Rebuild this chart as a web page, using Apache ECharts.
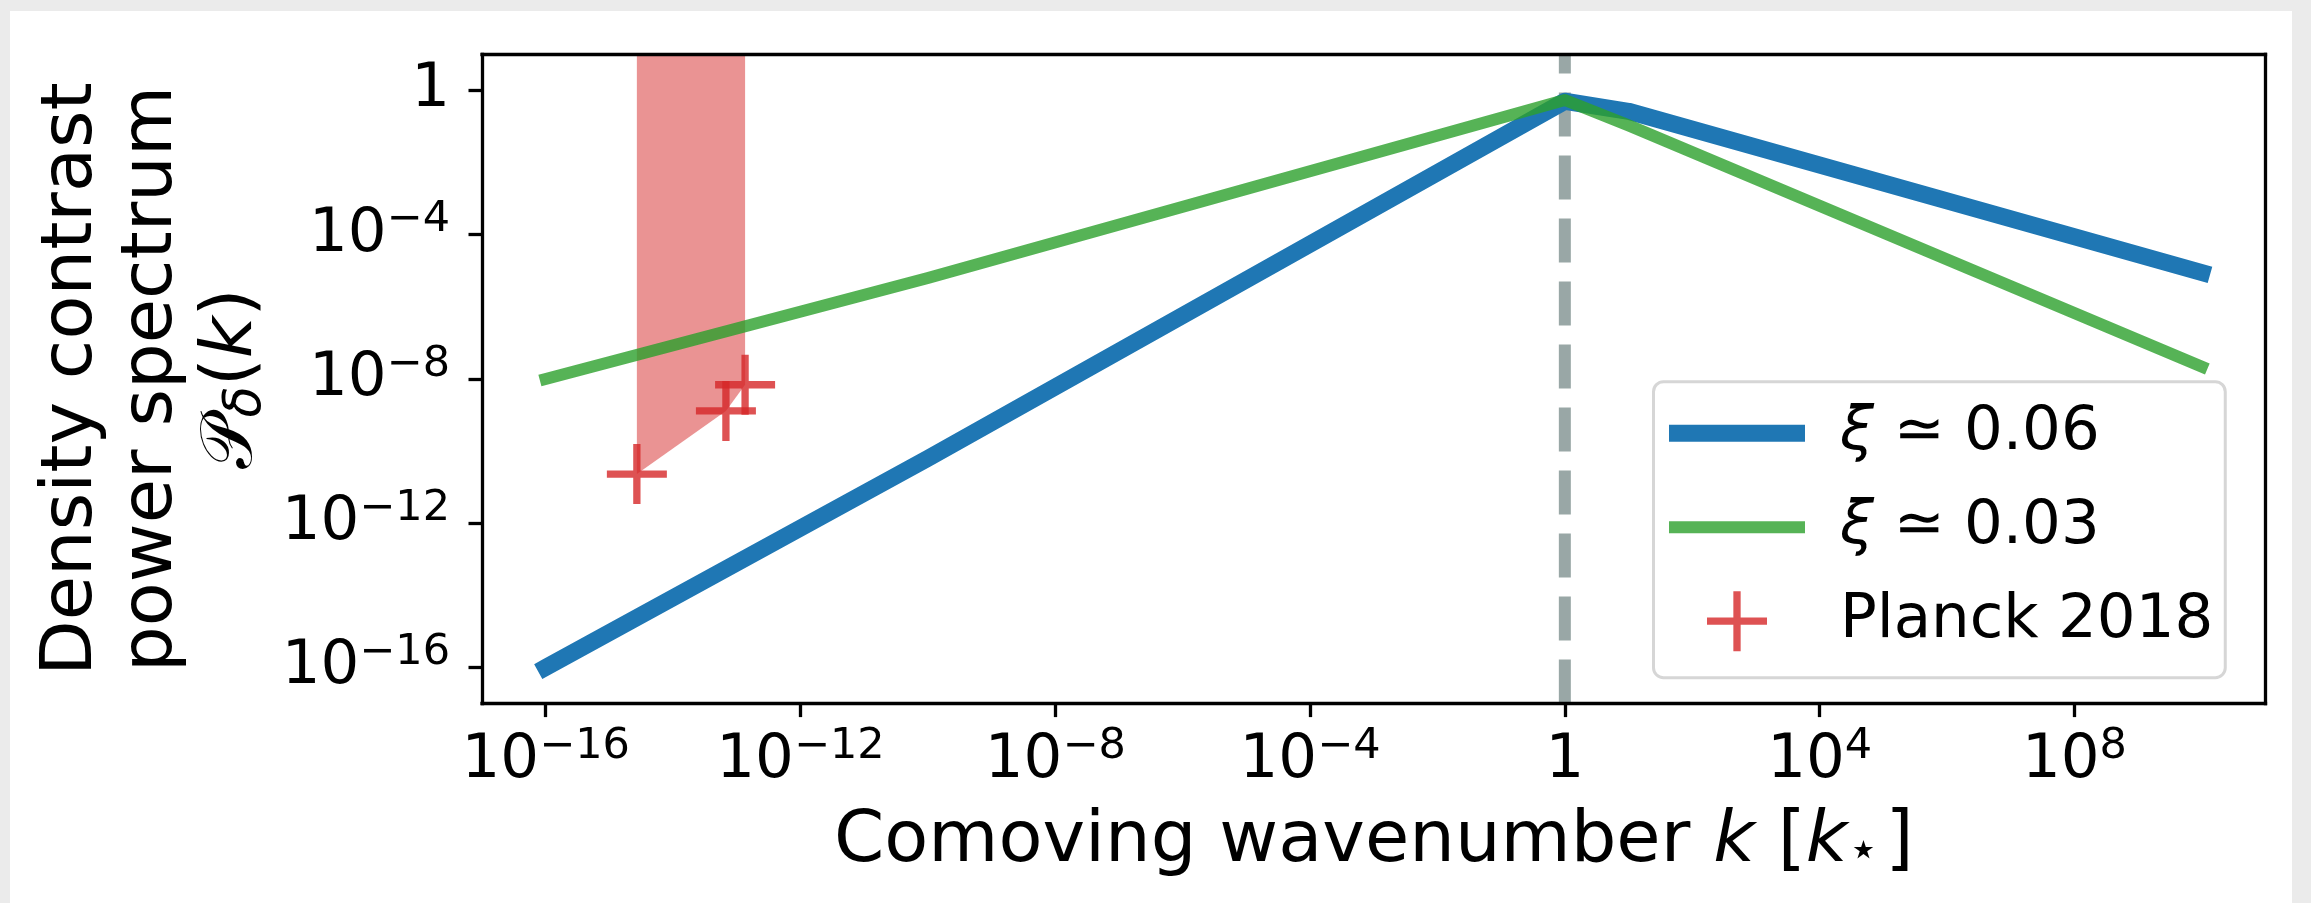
<!DOCTYPE html>
<html>
<head>
<meta charset="utf-8">
<script src="https://cdn.jsdelivr.net/npm/echarts@6/dist/echarts.min.js"></script>
<style>
  html, body { margin: 0; padding: 0; background: #ebebeb; }
  #card { position: absolute; left: 10px; top: 11px; width: 2282px; height: 892px; background: #ffffff; }
  #chart { position: absolute; left: 0; top: 0; width: 2311px; height: 903px; }
</style>
</head>
<body>
<div id="card"></div>
<div id="chart"></div>
<script>
// ---- data ----
const kBlue  = [1e-16, 1e-10, 1, 10, 1e10];
const pBlue  = [1e-16, 6.3e-11, 0.50, 0.263, 8.9e-6];
const kGreen = [1e-16, 1e-10, 1, 10, 1e10];
const pGreen = [1e-8, 6.3e-6, 0.54, 0.107, 2.2e-8];
const kPlanck = [2.7e-15, 6.75e-14, 1.35e-13];
const pPlanck = [2.3e-11, 1.3e-9, 6.9e-9];
const kStar = 1;
const xTickExps = [-16, -12, -8, -4, 0, 4, 8];
const yTickExps = [-16, -12, -8, -4, 0];
const seriesNames = ['xi06', 'xi03', 'Planck 2018'];
const legendLabels = ['{xi|ξ} ≃ 0.06', '{xi|ξ} ≃ 0.03', 'Planck 2018'];

const L = Math.log10;
const toLog = (ks, ps) => ks.map((k, i) => [L(k), L(ps[i])]);

const xMin = -17, xMax = 11, yMin = -17, yMax = 1;
const FONT = 'DejaVu Sans';

function tickFmt(v) {
  v = Math.round(v);
  if (v === 0) return '{b|1}';
  return '{b|10}{s|' + (v < 0 ? '\u2212' : '') + Math.abs(v) + '}';
}
const richTick = {
  b: { fontSize: 61, lineHeight: 72, fontFamily: FONT, color: '#000' },
  s: { fontSize: 43, lineHeight: 41, fontFamily: FONT, color: '#000', verticalAlign: 'top' }
};
const spine = { show: true, onZero: false, lineStyle: { color: '#000', width: 3.3, cap: 'square' } };
const plusPath = 'path://M26.35,0H33.65V26.35H60V33.65H33.65V60H26.35V33.65H0V26.35H26.35Z';
const bluePath = 'path://M0,0H136V17H0Z';
const greenPath = 'path://M0,0H136V12H0Z';

const chart = echarts.init(document.getElementById('chart'), null, { renderer: 'canvas' });
chart.setOption({
  animation: false,
  textStyle: { fontFamily: FONT },
  grid: { left: 482, top: 54.3, width: 1783.5, height: 649.3, show: false, containLabel: false, outerBoundsMode: 'none' },
  xAxis: [{
    type: 'value', min: xMin, max: xMax, position: 'bottom', z: 10,
    axisLine: spine,
    axisTick: { show: true, inside: false, length: 13.5, lineStyle: { color: '#000', width: 3.3 }, customValues: xTickExps },
    axisLabel: { show: true, margin: 22, customValues: xTickExps, formatter: tickFmt, rich: richTick, color: '#000' },
    splitLine: { show: false },
    name: 'Comoving wavenumber {i|k} [{i|k}{st|\u22c6}]',
    nameLocation: 'middle', nameGap: 103, nameMoveOverlap: false,
    nameTextStyle: {
      fontSize: 72, lineHeight: 72, color: '#000', fontFamily: FONT,
      rich: {
        i: { fontSize: 72, lineHeight: 72, fontStyle: 'italic', fontFamily: FONT, color: '#000' },
        st: { fontSize: 51, lineHeight: 35, verticalAlign: 'bottom', fontFamily: FONT, color: '#000', padding: [0, 6, 0, 0] }
      }
    }
  }, {
    type: 'value', min: xMin, max: xMax, position: 'top', z: 10,
    axisLine: spine, axisTick: { show: false }, axisLabel: { show: false }, splitLine: { show: false }
  }],
  yAxis: [{
    type: 'value', min: yMin, max: yMax, position: 'left', z: 10,
    axisLine: spine,
    axisTick: { show: true, inside: false, length: 13.5, lineStyle: { color: '#000', width: 3.3 }, customValues: yTickExps },
    axisLabel: { show: true, margin: 32, customValues: yTickExps, formatter: tickFmt, rich: richTick, color: '#000' },
    splitLine: { show: false },
    name: 'Density contrast\npower spectrum\n{P|\ud835\udcab}{d|\u03b4}{t|(}{k|k}{t|)}',
    nameLocation: 'middle', nameGap: 210, nameRotate: 90, nameMoveOverlap: false,
    nameTextStyle: {
      fontSize: 72, lineHeight: 80, color: '#000', fontFamily: FONT, align: 'center',
      rich: {
        P: { fontSize: 72, lineHeight: 80, fontFamily: FONT, color: '#000' },
        d: { fontSize: 51, lineHeight: 45, fontStyle: 'italic', verticalAlign: 'bottom', fontFamily: FONT, color: '#000' },
        t: { fontSize: 72, lineHeight: 80, fontFamily: FONT, color: '#000' },
        k: { fontSize: 72, lineHeight: 80, fontStyle: 'italic', fontFamily: FONT, color: '#000' }
      }
    }
  }, {
    type: 'value', min: yMin, max: yMax, position: 'right', z: 10,
    axisLine: spine, axisTick: { show: false }, axisLabel: { show: false }, splitLine: { show: false }
  }],
  legend: {
    orient: 'vertical', left: 1653.5, top: 381.7,
    itemWidth: 136, itemHeight: 60, itemGap: 33,
    padding: [21, 12, 26, 15.5],
    backgroundColor: 'rgba(255,255,255,0.8)', borderColor: '#d6d6d6', borderWidth: 3, borderRadius: 10,
    selectedMode: false, symbolKeepAspect: true,
    textStyle: {
      fontSize: 61, lineHeight: 60, color: '#000', fontFamily: FONT, padding: [0, 0, 0, 30],
      rich: { xi: { fontSize: 61, lineHeight: 60, fontStyle: 'italic', fontFamily: FONT, color: '#000' } }
    },
    formatter: name => legendLabels[seriesNames.indexOf(name)],
    data: [
      { name: seriesNames[0], icon: bluePath, itemStyle: { color: '#1f77b4' } },
      { name: seriesNames[1], icon: greenPath, itemStyle: { color: 'rgba(44,160,44,0.8)' } },
      { name: seriesNames[2], icon: plusPath, itemStyle: { color: '#d62728' } }
    ]
  },
  series: [
    {
      name: 'k_star', type: 'line', data: [[L(kStar), yMin], [L(kStar), yMax]], symbol: 'none', silent: true, z: 1,
      lineStyle: { color: '#99a7a6', width: 12, type: [44, 19], cap: 'butt' }
    },
    {
      name: 'Planck band', type: 'line', data: toLog(kPlanck, pPlanck), symbol: 'none', silent: true, z: 2,
      lineStyle: { width: 0, opacity: 0 },
      areaStyle: { color: 'rgba(214,39,40,0.5)', origin: 'end', opacity: 1 }
    },
    {
      name: seriesNames[0], type: 'line', data: toLog(kBlue, pBlue), symbol: 'none', z: 3,
      lineStyle: { color: '#1f77b4', width: 17, cap: 'square', join: 'round' },
      itemStyle: { color: '#1f77b4' }
    },
    {
      name: seriesNames[1], type: 'line', data: toLog(kGreen, pGreen), symbol: 'none', z: 4,
      lineStyle: { color: 'rgba(44,160,44,0.8)', width: 12, cap: 'square', join: 'round' },
      itemStyle: { color: 'rgba(44,160,44,0.8)' }
    },
    {
      name: seriesNames[2], type: 'scatter', data: toLog(kPlanck, pPlanck), symbol: plusPath, symbolSize: 60, z: 5,
      itemStyle: { color: '#d62728' }
    }
  ]
});
</script>
</body>
</html>
